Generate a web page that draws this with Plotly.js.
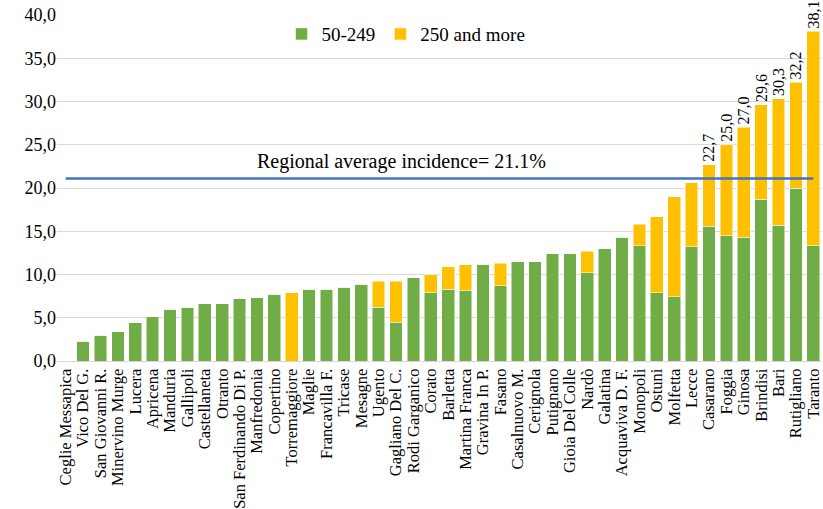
<!DOCTYPE html>
<html>
<head>
<meta charset="utf-8">
<script src="https://cdn.plot.ly/plotly-3.0.1.min.js"></script>
<style>html,body{margin:0;padding:0;background:#fff;}#chart{width:823px;height:509px;}</style>
</head>
<body>
<div id="chart"></div>
<script>
const categories = ["Ceglie Messapica","Vico Del G.","San Giovanni R.","Minervino Murge","Lucera","Apricena","Manduria","Gallipoli","Castellaneta","Otranto","San Ferdinando Di P.","Manfredonia","Copertino","Torremaggiore","Maglie","Francavilla F.","Tricase","Mesagne","Ugento","Gagliano Del C.","Rodi Garganico","Corato","Barletta","Martina Franca","Gravina In P.","Fasano","Casalnuovo M.","Cerignola","Putignano","Gioia Del Colle","Nardò","Galatina","Acquaviva D. F.","Monopoli","Ostuni","Molfetta","Lecce","Casarano","Foggia","Ginosa","Brindisi","Bari","Rutigliano","Taranto"];
const small = [0,2.3,3.0,3.4,4.4,5.1,6.0,6.2,6.6,6.6,7.2,7.3,7.7,0,8.3,8.3,8.5,8.9,6.2,4.5,9.6,7.9,8.3,8.1,11.2,8.7,11.5,11.5,12.4,12.4,10.2,13.0,14.3,13.3,7.9,7.4,13.2,15.6,14.5,14.3,18.7,15.7,20.0,13.3];
const large = [0,0,0,0,0,0,0,0,0,0,0,0,0,7.9,0,0,0,0,3.0,4.7,0,2.1,2.6,3.0,0,2.6,0,0,0,0,2.5,0,0,2.5,8.8,11.6,7.4,7.1,10.5,12.7,10.9,14.6,12.2,24.8];
const seriesNames = ["50-249","250 and more"];
const regionalAverage = 21.1;
const averageLabel = "Regional average incidence= 21.1%";
const yTicks = [0,5,10,15,20,25,30,35,40];

const totals = small.map((v,i)=>v+large[i]);
const labels = totals.map(t => t > regionalAverage ? t.toFixed(1).replace('.', ',') : '');

const serif = "Liberation Serif";
const traces = [
  {type:'bar', name:seriesNames[0], x:categories, y:small, marker:{color:'#70AD47', line:{color:'#ffffff', width:0.5}}, hoverinfo:'x+y'},
  {type:'bar', name:seriesNames[1], x:categories, y:large, marker:{color:'#FFC000', line:{color:'#ffffff', width:0.5}},
   text:labels, textposition:'outside', textangle:-90, cliponaxis:false, constraintext:'none',
   textfont:{family:serif, size:16, color:'#000'}, hoverinfo:'x+y'}
];
const layout = {
  width:823, height:509,
  margin:{l:57, r:1, t:15, b:148},
  barmode:'stack', bargap:0.27,
  paper_bgcolor:'#fff', plot_bgcolor:'#fff',
  font:{family:serif, size:18, color:'#000'},
  xaxis:{type:'category', tickangle:-90, tickmode:'array', tickvals:categories, ticktext:categories,
         tickfont:{family:serif, size:16.5, color:'#000'},
         showline:true, linecolor:'#d9d9d9', linewidth:1, ticks:'', showgrid:false, fixedrange:true},
  yaxis:{range:[0,40], tickvals:yTicks, tickformat:'.1f', tickfont:{family:serif, size:18, color:'#000'},
         showgrid:true, gridcolor:'#d9d9d9', gridwidth:1, zeroline:false, showline:false, ticks:'', fixedrange:true},
  separators:',.',
  showlegend:true,
  legend:{orientation:'h', x:0.2935, xanchor:'left', y:0.945, yanchor:'middle', bgcolor:'rgba(0,0,0,0)',
          font:{family:serif, size:19, color:'#000'}, traceorder:'normal'},
  shapes:[{type:'line', xref:'x', yref:'y', x0:0, x1:categories.length-1, y0:regionalAverage, y1:regionalAverage,
           line:{color:'#4472C4', width:2.5}}],
  annotations:[{xref:'paper', yref:'y', x:0.450, y:regionalAverage, yshift:17, text:averageLabel, showarrow:false,
                font:{family:serif, size:20, color:'#000'}, xanchor:'center', yanchor:'middle'}]
};
Plotly.newPlot('chart', traces, layout, {displayModeBar:false, staticPlot:true});
</script>
</body>
</html>
